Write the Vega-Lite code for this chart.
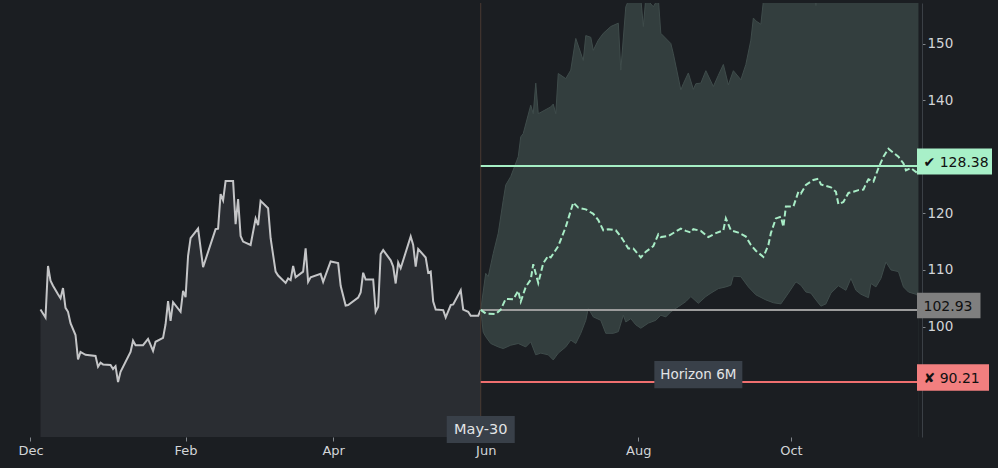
{
  "$schema": "https://vega.github.io/schema/vega-lite/v6.json",
  "width": 916,
  "height": 434,
  "autosize": {"type": "none"},
  "padding": {"left": 6, "top": 3, "right": 76, "bottom": 31},
  "background": "#1b1e22",
  "config": {
    "view": {"stroke": null},
    "font": "DejaVu Sans",
    "axis": {"grid": false, "title": null, "labelFont": "DejaVu Sans"}
  },
  "datasets": {
    "hist": [
      {"date": "2024-12-05", "value": 103.0}, {"date": "2024-12-07", "value": 101.6}, {"date": "2024-12-08", "value": 110.7},
      {"date": "2024-12-09", "value": 108.1}, {"date": "2024-12-10", "value": 107.2}, {"date": "2024-12-12", "value": 105.7},
      {"date": "2024-12-13", "value": 105.0}, {"date": "2024-12-14", "value": 106.8}, {"date": "2024-12-15", "value": 103.3},
      {"date": "2024-12-16", "value": 102.6}, {"date": "2024-12-17", "value": 100.6}, {"date": "2024-12-19", "value": 98.5},
      {"date": "2024-12-20", "value": 94.2}, {"date": "2024-12-21", "value": 95.5}, {"date": "2024-12-23", "value": 95.0},
      {"date": "2024-12-27", "value": 94.8}, {"date": "2024-12-28", "value": 92.9}, {"date": "2024-12-29", "value": 93.6},
      {"date": "2024-12-30", "value": 93.3}, {"date": "2025-01-02", "value": 93.2}, {"date": "2025-01-03", "value": 92.5},
      {"date": "2025-01-04", "value": 93.0}, {"date": "2025-01-05", "value": 90.2}, {"date": "2025-01-06", "value": 92.0},
      {"date": "2025-01-10", "value": 95.5}, {"date": "2025-01-11", "value": 97.5}, {"date": "2025-01-12", "value": 96.7},
      {"date": "2025-01-15", "value": 96.7}, {"date": "2025-01-17", "value": 97.8}, {"date": "2025-01-19", "value": 95.7},
      {"date": "2025-01-20", "value": 97.3}, {"date": "2025-01-23", "value": 98.0}, {"date": "2025-01-24", "value": 100.4},
      {"date": "2025-01-25", "value": 104.5}, {"date": "2025-01-26", "value": 101.0}, {"date": "2025-01-27", "value": 104.3},
      {"date": "2025-01-30", "value": 102.6}, {"date": "2025-01-31", "value": 106.3}, {"date": "2025-02-01", "value": 105.2},
      {"date": "2025-02-02", "value": 112.5}, {"date": "2025-02-03", "value": 115.6}, {"date": "2025-02-06", "value": 117.3},
      {"date": "2025-02-08", "value": 110.5}, {"date": "2025-02-13", "value": 117.2}, {"date": "2025-02-14", "value": 117.3},
      {"date": "2025-02-15", "value": 123.4}, {"date": "2025-02-16", "value": 122.3}, {"date": "2025-02-17", "value": 125.7},
      {"date": "2025-02-20", "value": 125.7}, {"date": "2025-02-21", "value": 118.1}, {"date": "2025-02-22", "value": 122.5},
      {"date": "2025-02-23", "value": 116.0}, {"date": "2025-02-24", "value": 115.0}, {"date": "2025-02-27", "value": 114.4},
      {"date": "2025-03-01", "value": 119.1}, {"date": "2025-03-02", "value": 117.9}, {"date": "2025-03-03", "value": 122.2},
      {"date": "2025-03-06", "value": 120.9}, {"date": "2025-03-07", "value": 115.6}, {"date": "2025-03-09", "value": 109.7},
      {"date": "2025-03-10", "value": 109.0}, {"date": "2025-03-13", "value": 107.7}, {"date": "2025-03-14", "value": 108.5},
      {"date": "2025-03-15", "value": 108.2}, {"date": "2025-03-16", "value": 110.7}, {"date": "2025-03-17", "value": 108.7},
      {"date": "2025-03-20", "value": 109.7}, {"date": "2025-03-21", "value": 113.8}, {"date": "2025-03-22", "value": 107.9},
      {"date": "2025-03-23", "value": 108.7}, {"date": "2025-03-27", "value": 109.3}, {"date": "2025-03-28", "value": 107.9},
      {"date": "2025-03-31", "value": 111.5}, {"date": "2025-04-03", "value": 111.2}, {"date": "2025-04-04", "value": 107.2},
      {"date": "2025-04-06", "value": 103.7}, {"date": "2025-04-07", "value": 103.8}, {"date": "2025-04-11", "value": 105.1},
      {"date": "2025-04-12", "value": 106.0}, {"date": "2025-04-13", "value": 109.5}, {"date": "2025-04-14", "value": 108.3},
      {"date": "2025-04-17", "value": 108.3}, {"date": "2025-04-18", "value": 102.6}, {"date": "2025-04-19", "value": 103.5},
      {"date": "2025-04-20", "value": 112.8}, {"date": "2025-04-21", "value": 113.5}, {"date": "2025-04-24", "value": 111.7},
      {"date": "2025-04-25", "value": 110.6}, {"date": "2025-04-26", "value": 107.6}, {"date": "2025-04-27", "value": 111.3},
      {"date": "2025-04-28", "value": 110.3}, {"date": "2025-05-02", "value": 115.9}, {"date": "2025-05-03", "value": 114.4},
      {"date": "2025-05-04", "value": 110.6}, {"date": "2025-05-05", "value": 113.7}, {"date": "2025-05-08", "value": 112.2},
      {"date": "2025-05-09", "value": 109.5}, {"date": "2025-05-10", "value": 109.7}, {"date": "2025-05-11", "value": 104.4},
      {"date": "2025-05-12", "value": 103.0}, {"date": "2025-05-15", "value": 102.9}, {"date": "2025-05-16", "value": 101.6},
      {"date": "2025-05-18", "value": 103.8}, {"date": "2025-05-19", "value": 103.9}, {"date": "2025-05-22", "value": 106.4},
      {"date": "2025-05-23", "value": 103.0}, {"date": "2025-05-25", "value": 102.6}, {"date": "2025-05-26", "value": 101.9},
      {"date": "2025-05-29", "value": 101.9}, {"date": "2025-05-30", "value": 102.93}
    ],
    "hi": [
      {"date": "2025-05-30", "value": 102.93}, {"date": "2025-06-01", "value": 109.4}, {"date": "2025-06-02", "value": 108.8},
      {"date": "2025-06-04", "value": 112.9}, {"date": "2025-06-06", "value": 116.5}, {"date": "2025-06-08", "value": 122.3},
      {"date": "2025-06-09", "value": 125.0}, {"date": "2025-06-11", "value": 126.5}, {"date": "2025-06-14", "value": 130.0},
      {"date": "2025-06-15", "value": 133.5}, {"date": "2025-06-16", "value": 134.1}, {"date": "2025-06-19", "value": 139.1},
      {"date": "2025-06-20", "value": 137.6}, {"date": "2025-06-21", "value": 143.0}, {"date": "2025-06-22", "value": 137.6},
      {"date": "2025-06-27", "value": 138.8}, {"date": "2025-06-28", "value": 139.3}, {"date": "2025-06-29", "value": 137.6},
      {"date": "2025-06-30", "value": 144.7}, {"date": "2025-07-03", "value": 143.8}, {"date": "2025-07-05", "value": 145.3},
      {"date": "2025-07-07", "value": 150.9}, {"date": "2025-07-10", "value": 147.0}, {"date": "2025-07-11", "value": 151.4},
      {"date": "2025-07-13", "value": 151.1}, {"date": "2025-07-14", "value": 148.8}, {"date": "2025-07-16", "value": 150.6},
      {"date": "2025-07-18", "value": 151.8}, {"date": "2025-07-21", "value": 153.0}, {"date": "2025-07-24", "value": 153.6},
      {"date": "2025-07-25", "value": 145.3}, {"date": "2025-07-27", "value": 156.5}, {"date": "2025-07-29", "value": 158.5},
      {"date": "2025-07-31", "value": 159.0}, {"date": "2025-08-02", "value": 158.0}, {"date": "2025-08-03", "value": 153.0},
      {"date": "2025-08-04", "value": 158.0}, {"date": "2025-08-07", "value": 156.5}, {"date": "2025-08-09", "value": 158.0},
      {"date": "2025-08-10", "value": 151.8}, {"date": "2025-08-14", "value": 150.0}, {"date": "2025-08-15", "value": 148.2},
      {"date": "2025-08-18", "value": 141.8}, {"date": "2025-08-19", "value": 142.9}, {"date": "2025-08-21", "value": 144.8},
      {"date": "2025-08-23", "value": 141.9}, {"date": "2025-08-24", "value": 142.9}, {"date": "2025-08-26", "value": 143.0},
      {"date": "2025-08-28", "value": 145.2}, {"date": "2025-08-31", "value": 142.4}, {"date": "2025-09-02", "value": 144.4},
      {"date": "2025-09-04", "value": 146.3}, {"date": "2025-09-06", "value": 142.7}, {"date": "2025-09-08", "value": 145.2},
      {"date": "2025-09-11", "value": 143.6}, {"date": "2025-09-13", "value": 146.3}, {"date": "2025-09-15", "value": 150.6},
      {"date": "2025-09-16", "value": 154.5}, {"date": "2025-09-17", "value": 154.0}, {"date": "2025-09-19", "value": 153.4},
      {"date": "2025-09-20", "value": 157.5}, {"date": "2025-09-23", "value": 161.0}, {"date": "2025-09-27", "value": 164.0},
      {"date": "2025-10-01", "value": 162.0}, {"date": "2025-10-05", "value": 166.0}, {"date": "2025-10-08", "value": 160.0},
      {"date": "2025-10-10", "value": 159.5}, {"date": "2025-10-11", "value": 156.7}, {"date": "2025-10-12", "value": 159.5},
      {"date": "2025-10-15", "value": 161.0}, {"date": "2025-10-19", "value": 168.0}, {"date": "2025-10-25", "value": 165.0},
      {"date": "2025-10-31", "value": 170.0}, {"date": "2025-11-06", "value": 168.0}, {"date": "2025-11-12", "value": 172.0},
      {"date": "2025-11-18", "value": 170.0}, {"date": "2025-11-21", "value": 171.0}
    ],
    "lo": [
      {"date": "2025-05-30", "value": 102.93}, {"date": "2025-05-31", "value": 99.0}, {"date": "2025-06-01", "value": 98.2},
      {"date": "2025-06-03", "value": 97.0}, {"date": "2025-06-06", "value": 96.4}, {"date": "2025-06-08", "value": 96.1},
      {"date": "2025-06-11", "value": 96.7}, {"date": "2025-06-14", "value": 97.0}, {"date": "2025-06-17", "value": 96.4},
      {"date": "2025-06-19", "value": 97.3}, {"date": "2025-06-21", "value": 95.0}, {"date": "2025-06-23", "value": 95.3},
      {"date": "2025-06-26", "value": 95.0}, {"date": "2025-06-28", "value": 94.1}, {"date": "2025-06-30", "value": 95.3},
      {"date": "2025-07-03", "value": 96.4}, {"date": "2025-07-05", "value": 97.6}, {"date": "2025-07-07", "value": 97.0},
      {"date": "2025-07-09", "value": 98.8}, {"date": "2025-07-11", "value": 101.1}, {"date": "2025-07-12", "value": 103.2},
      {"date": "2025-07-14", "value": 101.7}, {"date": "2025-07-17", "value": 101.1}, {"date": "2025-07-19", "value": 98.8},
      {"date": "2025-07-22", "value": 98.8}, {"date": "2025-07-24", "value": 99.1}, {"date": "2025-07-26", "value": 102.0},
      {"date": "2025-07-27", "value": 100.8}, {"date": "2025-07-29", "value": 101.4}, {"date": "2025-07-31", "value": 100.3},
      {"date": "2025-08-02", "value": 99.7}, {"date": "2025-08-05", "value": 100.6}, {"date": "2025-08-08", "value": 101.1},
      {"date": "2025-08-10", "value": 102.0}, {"date": "2025-08-12", "value": 101.7}, {"date": "2025-08-14", "value": 102.6},
      {"date": "2025-08-17", "value": 103.5}, {"date": "2025-08-20", "value": 104.4}, {"date": "2025-08-22", "value": 105.3},
      {"date": "2025-08-25", "value": 104.1}, {"date": "2025-08-28", "value": 105.3}, {"date": "2025-08-30", "value": 105.9},
      {"date": "2025-09-02", "value": 106.7}, {"date": "2025-09-05", "value": 107.0}, {"date": "2025-09-07", "value": 107.3},
      {"date": "2025-09-08", "value": 108.9}, {"date": "2025-09-11", "value": 108.8}, {"date": "2025-09-14", "value": 107.0},
      {"date": "2025-09-17", "value": 105.6}, {"date": "2025-09-21", "value": 104.7}, {"date": "2025-09-24", "value": 104.2},
      {"date": "2025-09-27", "value": 104.0}, {"date": "2025-09-30", "value": 105.9}, {"date": "2025-10-03", "value": 107.9},
      {"date": "2025-10-05", "value": 107.3}, {"date": "2025-10-07", "value": 106.1}, {"date": "2025-10-09", "value": 105.9},
      {"date": "2025-10-11", "value": 104.7}, {"date": "2025-10-13", "value": 103.6}, {"date": "2025-10-15", "value": 104.0},
      {"date": "2025-10-17", "value": 105.9}, {"date": "2025-10-20", "value": 107.2}, {"date": "2025-10-23", "value": 106.4},
      {"date": "2025-10-25", "value": 108.5}, {"date": "2025-10-27", "value": 106.4}, {"date": "2025-10-29", "value": 105.7},
      {"date": "2025-11-01", "value": 105.1}, {"date": "2025-11-02", "value": 107.6}, {"date": "2025-11-04", "value": 107.0},
      {"date": "2025-11-06", "value": 108.5}, {"date": "2025-11-08", "value": 111.4}, {"date": "2025-11-10", "value": 110.0},
      {"date": "2025-11-13", "value": 109.7}, {"date": "2025-11-15", "value": 107.0}, {"date": "2025-11-17", "value": 106.1},
      {"date": "2025-11-20", "value": 105.7}, {"date": "2025-11-21", "value": 105.3}
    ],
    "med": [
      {"date": "2025-05-30", "value": 102.93}, {"date": "2025-06-01", "value": 102.3}, {"date": "2025-06-05", "value": 102.2},
      {"date": "2025-06-07", "value": 103.0}, {"date": "2025-06-09", "value": 104.9}, {"date": "2025-06-12", "value": 104.8},
      {"date": "2025-06-14", "value": 106.3}, {"date": "2025-06-15", "value": 104.4}, {"date": "2025-06-17", "value": 107.0},
      {"date": "2025-06-19", "value": 108.3}, {"date": "2025-06-20", "value": 111.0}, {"date": "2025-06-22", "value": 107.7},
      {"date": "2025-06-24", "value": 111.2}, {"date": "2025-06-26", "value": 112.5}, {"date": "2025-06-27", "value": 112.2},
      {"date": "2025-06-30", "value": 114.2}, {"date": "2025-07-03", "value": 117.6}, {"date": "2025-07-06", "value": 121.9},
      {"date": "2025-07-08", "value": 121.0}, {"date": "2025-07-11", "value": 120.7}, {"date": "2025-07-14", "value": 119.9},
      {"date": "2025-07-16", "value": 118.8}, {"date": "2025-07-18", "value": 117.0}, {"date": "2025-07-20", "value": 117.2},
      {"date": "2025-07-23", "value": 117.0}, {"date": "2025-07-25", "value": 115.9}, {"date": "2025-07-28", "value": 113.8},
      {"date": "2025-07-30", "value": 113.8}, {"date": "2025-08-02", "value": 112.2}, {"date": "2025-08-04", "value": 113.2},
      {"date": "2025-08-07", "value": 114.2}, {"date": "2025-08-09", "value": 116.3}, {"date": "2025-08-10", "value": 115.8},
      {"date": "2025-08-13", "value": 116.0}, {"date": "2025-08-18", "value": 117.3}, {"date": "2025-08-20", "value": 116.9},
      {"date": "2025-08-22", "value": 116.6}, {"date": "2025-08-23", "value": 117.2}, {"date": "2025-08-26", "value": 116.9},
      {"date": "2025-08-29", "value": 115.8}, {"date": "2025-09-01", "value": 116.5}, {"date": "2025-09-04", "value": 117.0},
      {"date": "2025-09-05", "value": 119.1}, {"date": "2025-09-07", "value": 117.0}, {"date": "2025-09-10", "value": 116.6},
      {"date": "2025-09-13", "value": 115.9}, {"date": "2025-09-15", "value": 114.4}, {"date": "2025-09-17", "value": 113.4},
      {"date": "2025-09-20", "value": 112.3}, {"date": "2025-09-22", "value": 114.4}, {"date": "2025-09-23", "value": 116.5},
      {"date": "2025-09-25", "value": 119.1}, {"date": "2025-09-27", "value": 119.4}, {"date": "2025-09-28", "value": 117.6},
      {"date": "2025-09-29", "value": 121.2}, {"date": "2025-10-02", "value": 121.2}, {"date": "2025-10-04", "value": 123.8},
      {"date": "2025-10-05", "value": 123.5}, {"date": "2025-10-07", "value": 125.0}, {"date": "2025-10-10", "value": 125.9},
      {"date": "2025-10-12", "value": 126.1}, {"date": "2025-10-13", "value": 125.1}, {"date": "2025-10-17", "value": 124.6},
      {"date": "2025-10-19", "value": 123.8}, {"date": "2025-10-20", "value": 121.6}, {"date": "2025-10-22", "value": 122.0},
      {"date": "2025-10-24", "value": 123.6}, {"date": "2025-10-26", "value": 123.8}, {"date": "2025-10-28", "value": 124.1},
      {"date": "2025-10-30", "value": 124.2}, {"date": "2025-10-31", "value": 125.2}, {"date": "2025-11-01", "value": 126.0},
      {"date": "2025-11-03", "value": 125.6}, {"date": "2025-11-05", "value": 128.0}, {"date": "2025-11-07", "value": 130.0},
      {"date": "2025-11-09", "value": 131.4}, {"date": "2025-11-11", "value": 130.7}, {"date": "2025-11-13", "value": 130.0},
      {"date": "2025-11-15", "value": 128.8}, {"date": "2025-11-16", "value": 127.6}, {"date": "2025-11-18", "value": 128.0},
      {"date": "2025-11-20", "value": 127.3}, {"date": "2025-11-21", "value": 128.0}
    ],
    "levels": [
      {"level": "up", "value": 128.38, "label": "✔ 128.38"},
      {"level": "spot", "value": 102.93, "label": "102.93"},
      {"level": "down", "value": 90.21, "label": "✘ 90.21"}
    ]
  },
  "layer": [
    {
      "data": {"name": "hist"},
      "mark": {"type": "area", "color": "#2a2d32"},
      "encoding": {
        "x": {
          "field": "date", "type": "temporal",
          "scale": {"type": "utc", "domain": [
            {"year": 2024, "month": 11, "date": 21, "hours": 5, "utc": true},
            {"year": 2025, "month": 11, "date": 22, "hours": 10, "utc": true}
          ]},
          "axis": {
            "orient": "bottom",
            "values": [
              {"year": 2024, "month": 12, "date": 1, "utc": true},
              {"year": 2025, "month": 2, "date": 1, "utc": true},
              {"year": 2025, "month": 4, "date": 1, "utc": true},
              {"year": 2025, "month": 6, "date": 1, "utc": true},
              {"year": 2025, "month": 8, "date": 1, "utc": true},
              {"year": 2025, "month": 10, "date": 1, "utc": true}
            ],
            "format": "%b", "domain": false, "tickSize": 4, "tickColor": "#80858a",
            "labelColor": "#d2d5d8", "labelFontSize": 13, "labelPadding": 3, "labelFlush": false
          }
        },
        "y": {
          "field": "value", "type": "quantitative",
          "scale": {"domain": [80.48, 157.16], "zero": false, "nice": false},
          "axis": {
            "orient": "right", "values": [100, 110, 120, 140, 150],
            "domainColor": "#3b4046", "tickColor": "#80858a", "tickSize": 3,
            "labelColor": "#d2d5d8", "labelFontSize": 13.5, "labelPadding": 2
          }
        },
        "y2": {"datum": 80.48}
      }
    },
    {
      "data": {"name": "hist"},
      "mark": {"type": "line", "color": "#c4c5c7", "strokeWidth": 2},
      "encoding": {"x": {"field": "date", "type": "temporal"}, "y": {"field": "value", "type": "quantitative"}}
    },
    {
      "data": {"name": "hi"},
      "mark": {"type": "area", "color": "#333e3e", "clip": true},
      "encoding": {"x": {"field": "date", "type": "temporal"}, "y": {"field": "value", "type": "quantitative"}, "y2": {"datum": 80.48}}
    },
    {
      "data": {"name": "hi"},
      "mark": {"type": "line", "color": "#3f4c4b", "strokeWidth": 1, "clip": true},
      "encoding": {"x": {"field": "date", "type": "temporal"}, "y": {"field": "value", "type": "quantitative"}}
    },
    {
      "data": {"name": "lo"},
      "mark": {"type": "area", "color": "#1b1e22"},
      "encoding": {"x": {"field": "date", "type": "temporal"}, "y": {"field": "value", "type": "quantitative"}, "y2": {"datum": 80.48}}
    },
    {
      "data": {"name": "lo"},
      "mark": {"type": "line", "color": "#3f4c4b", "strokeWidth": 1},
      "encoding": {"x": {"field": "date", "type": "temporal"}, "y": {"field": "value", "type": "quantitative"}}
    },
    {
      "data": {"values": [{}]},
      "mark": {"type": "rule", "color": "#4a3a33", "strokeWidth": 1},
      "encoding": {"x": {"datum": {"year": 2025, "month": 5, "date": 30, "utc": true}, "type": "temporal"}}
    },
    {
      "data": {"name": "levels"},
      "mark": {"type": "rule", "strokeWidth": 2},
      "encoding": {
        "x": {"datum": {"year": 2025, "month": 5, "date": 30, "utc": true}, "type": "temporal"},
        "x2": {"datum": {"year": 2025, "month": 11, "date": 22, "hours": 10, "utc": true}},
        "y": {"field": "value", "type": "quantitative"},
        "color": {"field": "level", "type": "nominal", "scale": {"domain": ["up", "spot", "down"], "range": ["#a6efc5", "#9c9c9c", "#ef6f6f"]}, "legend": null}
      }
    },
    {
      "data": {"name": "med"},
      "mark": {"type": "line", "color": "#a8ecc6", "strokeWidth": 2, "strokeDash": [6, 3]},
      "encoding": {"x": {"field": "date", "type": "temporal"}, "y": {"field": "value", "type": "quantitative"}}
    },
    {
      "data": {"name": "levels"},
      "transform": [{"filter": "datum.level == 'up'"}],
      "mark": {"type": "rect", "color": "#a8f0c8", "xOffset": -5, "x2Offset": 70, "yOffset": -17.5, "y2Offset": 8.5},
      "encoding": {
        "x": {"datum": {"year": 2025, "month": 11, "date": 22, "hours": 10, "utc": true}, "type": "temporal"},
        "x2": {"datum": {"year": 2025, "month": 11, "date": 22, "hours": 10, "utc": true}},
        "y": {"field": "value", "type": "quantitative"},
        "y2": {"field": "value"}
      }
    },
    {
      "data": {"name": "levels"},
      "transform": [{"filter": "datum.level == 'spot'"}],
      "mark": {"type": "rect", "color": "#7f7f7f", "xOffset": -5, "x2Offset": 58.5, "yOffset": -17.2, "y2Offset": 8.4},
      "encoding": {
        "x": {"datum": {"year": 2025, "month": 11, "date": 22, "hours": 10, "utc": true}, "type": "temporal"},
        "x2": {"datum": {"year": 2025, "month": 11, "date": 22, "hours": 10, "utc": true}},
        "y": {"field": "value", "type": "quantitative"},
        "y2": {"field": "value"}
      }
    },
    {
      "data": {"name": "levels"},
      "transform": [{"filter": "datum.level == 'down'"}],
      "mark": {"type": "rect", "color": "#f27f7f", "xOffset": -5, "x2Offset": 67, "yOffset": -17.6, "y2Offset": 8.8},
      "encoding": {
        "x": {"datum": {"year": 2025, "month": 11, "date": 22, "hours": 10, "utc": true}, "type": "temporal"},
        "x2": {"datum": {"year": 2025, "month": 11, "date": 22, "hours": 10, "utc": true}},
        "y": {"field": "value", "type": "quantitative"},
        "y2": {"field": "value"}
      }
    },
    {
      "data": {"name": "levels"},
      "mark": {"type": "text", "align": "left", "baseline": "alphabetic", "dx": 1.5, "dy": 1, "fontSize": 14, "color": "#111111"},
      "encoding": {
        "x": {"datum": {"year": 2025, "month": 11, "date": 22, "hours": 10, "utc": true}, "type": "temporal"},
        "y": {"field": "value", "type": "quantitative"},
        "text": {"field": "label"}
      }
    },
    {
      "data": {"values": [{}]},
      "mark": {"type": "rect", "color": "#394049", "xOffset": -44, "x2Offset": 44, "yOffset": -20.9, "y2Offset": 6.4},
      "encoding": {
        "x": {"datum": {"year": 2025, "month": 8, "date": 25, "utc": true}, "type": "temporal"},
        "x2": {"datum": {"year": 2025, "month": 8, "date": 25, "utc": true}},
        "y": {"datum": 90.21, "type": "quantitative"},
        "y2": {"datum": 90.21}
      }
    },
    {
      "data": {"values": [{}]},
      "mark": {"type": "text", "text": "Horizon 6M", "align": "center", "baseline": "middle", "dy": -7.2, "fontSize": 13.5, "color": "#e2e4e6"},
      "encoding": {
        "x": {"datum": {"year": 2025, "month": 8, "date": 25, "utc": true}, "type": "temporal"},
        "y": {"datum": 90.21, "type": "quantitative"}
      }
    },
    {
      "data": {"values": [{}]},
      "mark": {"type": "rect", "color": "#394049", "xOffset": -34, "x2Offset": 34, "yOffset": -21, "y2Offset": 6},
      "encoding": {
        "x": {"datum": {"year": 2025, "month": 5, "date": 30, "utc": true}, "type": "temporal"},
        "x2": {"datum": {"year": 2025, "month": 5, "date": 30, "utc": true}},
        "y": {"datum": 80.48, "type": "quantitative"},
        "y2": {"datum": 80.48}
      }
    },
    {
      "data": {"values": [{}]},
      "mark": {"type": "text", "text": "May-30", "align": "center", "baseline": "middle", "dy": -7.5, "fontSize": 14.5, "color": "#e2e4e6"},
      "encoding": {
        "x": {"datum": {"year": 2025, "month": 5, "date": 30, "utc": true}, "type": "temporal"},
        "y": {"datum": 80.48, "type": "quantitative"}
      }
    }
  ]
}
